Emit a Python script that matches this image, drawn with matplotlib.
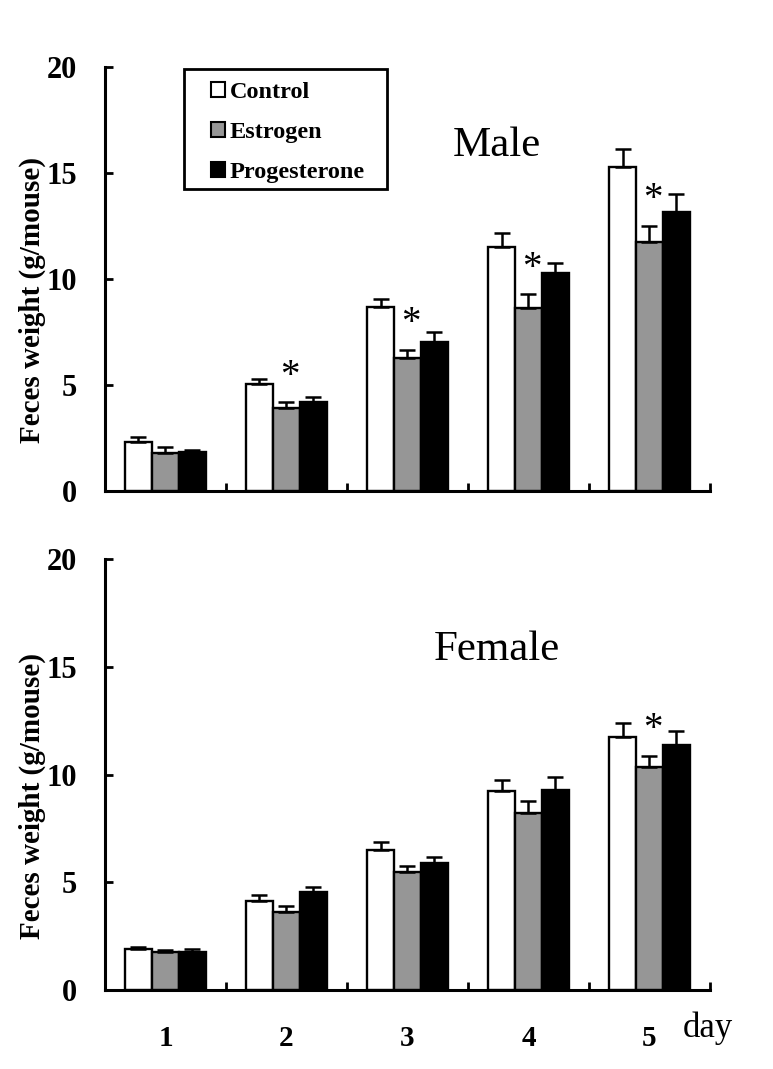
import numpy as np
import matplotlib
matplotlib.use("Agg")
import matplotlib.pyplot as plt
from matplotlib.patches import Patch, Rectangle

plt.rcParams["font.family"] = ["Liberation Serif", "DejaVu Serif"]

days = ["1", "2", "3", "4", "5"]
groups = ["Control", "Estrogen", "Progesterone"]
colors = ["white", "#969696", "black"]

male_mean = {
    "Control": [2.31, 5.03, 8.67, 11.51, 15.25],
    "Estrogen": [1.79, 3.89, 6.24, 8.60, 11.75],
    "Progesterone": [1.81, 4.17, 7.03, 10.28, 13.13],
}
male_err = {
    "Control": [0.21, 0.24, 0.35, 0.63, 0.87],
    "Estrogen": [0.26, 0.28, 0.40, 0.66, 0.75],
    "Progesterone": [0.11, 0.23, 0.47, 0.47, 0.87],
}
male_sig = [1, 2, 3, 4]  # days (index) with * over Estrogen

female_mean = {
    "Control": [1.89, 4.15, 6.50, 9.26, 11.77],
    "Estrogen": [1.75, 3.64, 5.50, 8.24, 10.37],
    "Progesterone": [1.78, 4.54, 5.91, 9.29, 11.39],
}
female_err = {
    "Control": [0.12, 0.26, 0.39, 0.49, 0.62],
    "Estrogen": [0.12, 0.26, 0.26, 0.54, 0.50],
    "Progesterone": [0.11, 0.23, 0.25, 0.59, 0.64],
}
female_sig = [4]

W = 0.223
x = np.arange(len(days))

fig = plt.figure(figsize=(7.73, 10.69), dpi=100)
ax1 = fig.add_axes([0.1358, 0.541, 0.7827, 0.3966])
ax2 = fig.add_axes([0.1358, 0.0739, 0.7827, 0.4029])


def draw(ax, mean, err, sig, title, title_y):
    for i, g in enumerate(groups):
        pos = x + (i - 1) * W
        ax.bar(pos, mean[g], W, color=colors[i], edgecolor="black", linewidth=1.7, zorder=2)
        ax.errorbar(pos, mean[g], yerr=[np.zeros(5), err[g]], fmt="none", ecolor="black",
                    elinewidth=1.8, capsize=5.5, capthick=1.8, zorder=3)
    for d in sig:
        top = mean["Estrogen"][d] + err["Estrogen"][d]
        ax.text(x[d] + 0.03, top + 0.35, "*", ha="center", va="bottom", fontsize=28)
    ax.set_xlim(-0.5, 4.5)
    ax.set_ylim(0, 20)
    ax.set_yticks([0, 5, 10, 15, 20])
    ax.set_yticklabels(["0", "5", "10", "15", "20"], fontweight="bold", fontsize=22)
    ax.set_xticks(np.arange(0.5, 5, 1))
    ax.set_xticklabels([])
    ax.set_xticks(x, minor=True)
    ax.tick_params(axis="both", which="major", direction="in", length=6, width=2)
    ax.tick_params(axis="y", pad=20)
    ax.tick_params(axis="x", which="minor", length=0)
    for s in ["top", "right"]:
        ax.spines[s].set_visible(False)
    for s in ["left", "bottom"]:
        ax.spines[s].set_linewidth(2.2)
    ax.set_ylabel("Feces weight (g/mouse)", fontweight="bold", fontsize=21)
    ax.yaxis.set_label_coords(-0.097, 0.45)
    ax.text(0.648, title_y, title, transform=ax.transAxes, ha="center", va="center", fontsize=31)


draw(ax1, male_mean, male_err, male_sig, "Male", 0.813)
draw(ax2, female_mean, female_err, female_sig, "Female", 0.79)

ax2.set_xticklabels(days, minor=True, fontweight="bold", fontsize=21)
ax2.tick_params(axis="x", which="minor", pad=25)
ax2.text(0.997, -0.088, "day", transform=ax2.transAxes, ha="center", va="center", fontsize=25)

# legend: frame drawn separately so the padding can match
ax1.add_patch(Rectangle((0.1306, 0.7116), 0.3354, 0.283, transform=ax1.transAxes,
                        facecolor="white", edgecolor="black", linewidth=2, zorder=4, clip_on=False))
handles = [Patch(facecolor=c, edgecolor="black", linewidth=1.5) for c in colors]
leg = ax1.legend(handles, groups, loc="upper left", bbox_to_anchor=(0.175, 0.965),
                 prop={"weight": "bold", "size": 17.5}, frameon=False,
                 handlelength=0.58, handleheight=0.58, handletextpad=0.2,
                 labelspacing=0.79, borderpad=0, borderaxespad=0)
leg.set_zorder(5)

fig.savefig("out.png", dpi=100)
